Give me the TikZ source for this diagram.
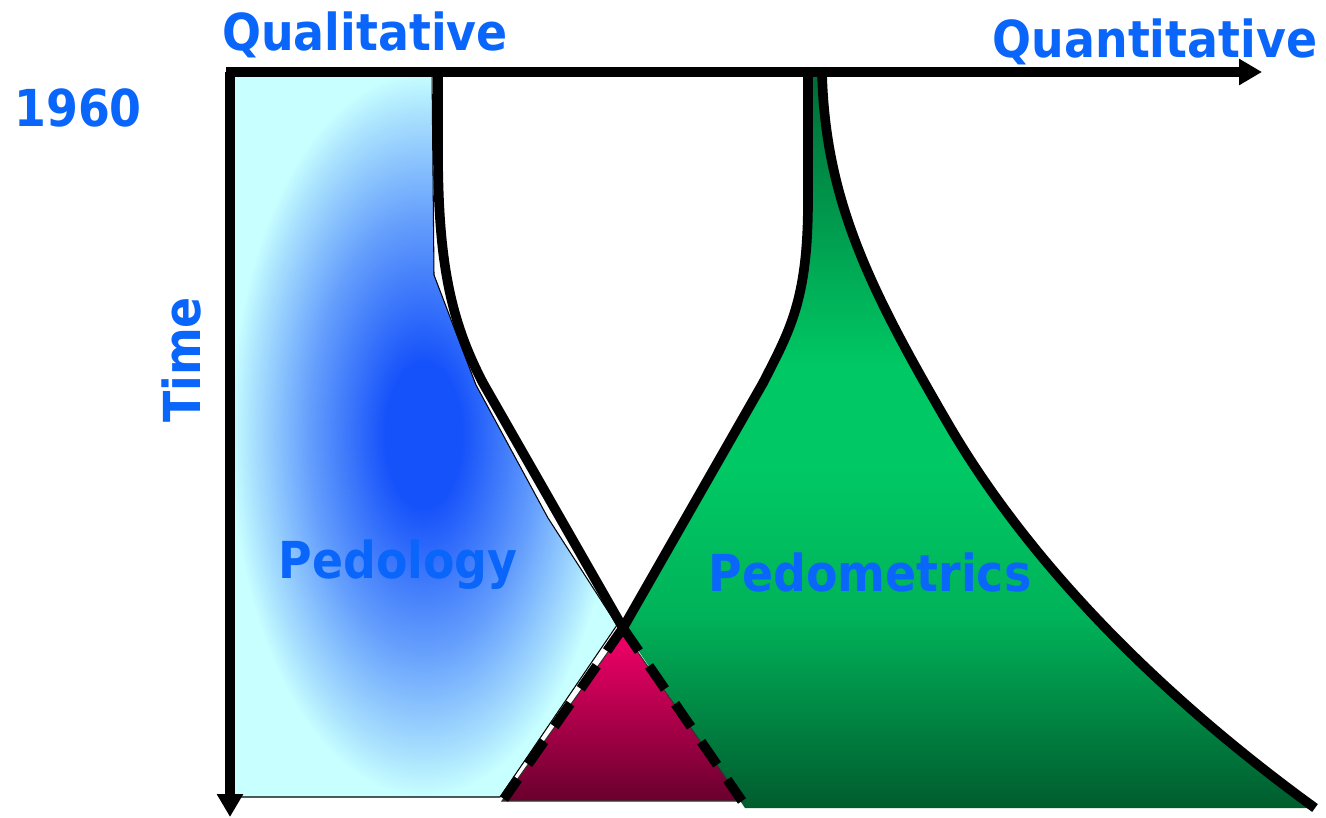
\documentclass[tikz,border=0pt]{standalone}
\usepackage{fontspec}
\newfontfamily\labelfont{DejaVu Sans}[FakeStretch=0.9]
\usetikzlibrary{positioning, calc, arrows.meta}

\definecolor{labelblue}{RGB}{10,102,250}
\definecolor{pedocyan}{RGB}{200,255,255}
\definecolor{pedoblue}{RGB}{22,82,250}
\definecolor{metrictop}{RGB}{0,108,54}
\definecolor{metricbright}{RGB}{0,200,100}
\definecolor{metricbottom}{RGB}{0,92,46}
\definecolor{overlaptop}{RGB}{245,0,105}
\definecolor{overlapbottom}{RGB}{105,0,45}

\pgfdeclareradialshading{pedologyglow}{\pgfpointorigin}{%
  color(0bp)=(pedoblue); color(5bp)=(pedoblue);
  color(15bp)=(pedoblue!55!pedocyan); color(22bp)=(pedoblue!18!pedocyan);
  color(25bp)=(pedocyan); color(50bp)=(pedocyan)}
\pgfdeclareverticalshading{pedometricsfill}{100bp}{%
  color(0bp)=(metricbottom); color(25bp)=(metricbottom);
  color(38bp)=(metricbright!80!metricbottom);
  color(48bp)=(metricbright); color(55bp)=(metricbright);
  color(75bp)=(metrictop); color(100bp)=(metrictop)}

\begin{document}
\begin{tikzpicture}[
  x=0.02cm, y=-0.02cm,
  areatext/.style={font=\labelfont\bfseries\fontsize{29}{34}\selectfont, text=labelblue, inner sep=0pt},
  boundary/.style={line width=5.5pt},
  overlap edge/.style={boundary, dash pattern=on 0.56cm off 0.36cm},
  timeaxis/.style={line width=5.5pt, -{Triangle[length=0.46cm, width=0.5cm]}},
]
\useasboundingbox[fill=white] (0,0) rectangle (1326,818);

% --- key points ---
\coordinate (Origin) at (230,72);
\coordinate (Cross) at (623,628);
\coordinate (PedTop) at (438,72);
\coordinate (MetLeftTop) at (808,72);
\coordinate (MetRightTop) at (822,72);
\coordinate (MetRightEnd) at (1315,808);
\coordinate (OverlapLeft) at (504,799);
\coordinate (OverlapRight) at (742,801);

% --- Pedology ---
\path[shading=pedologyglow, draw=black, line width=0.6pt]
  (Origin) -- (432,72) -- (434,275) -- (476,385) -- (548,518) -- (617,625)
  -- (500,797) -- (230,797) -- cycle;

% --- Pedometrics ---
\path[shading=pedometricsfill]
  (MetLeftTop) -- (808,200) .. controls (808,300) and (790,330) .. (763,383)
  -- (Cross) -- (745,808) -- (MetRightEnd)
  .. controls (1180,710) and (1040,580) .. (950,427)
  .. controls (870,290) and (825,200) .. (MetRightTop) -- cycle;

% --- overlap ---
\path[top color=overlaptop, bottom color=overlapbottom, draw=black!80, line width=0.6pt]
  ($(Cross)+(0,3)$) -- (502,801) -- (OverlapRight) -- cycle;

% boundaries
\draw[boundary] (PedTop) -- (438,150) .. controls (438,260) and (450,320) .. (483,383) -- (Cross);
\draw[boundary] (MetLeftTop) -- (808,200) .. controls (808,300) and (790,330) .. (763,383) -- (Cross);
\draw[boundary] (MetRightTop) .. controls (825,200) and (870,290) .. (950,427)
  .. controls (1040,580) and (1180,710) .. (MetRightEnd);
\draw[overlap edge] (Cross) -- (OverlapLeft);
\draw[overlap edge] (Cross) -- (OverlapRight);

% axes
\draw[timeaxis] ($(Origin)+(-4,0)$) -- (1262,72);
\draw[timeaxis] (Origin) -- (230,817);

% texts
\node[areatext] (Qual) at (365,35) {Qualitative};
\node[areatext] (Quant) at (1155,42) {Quantitative};
\node[areatext] (Year) at (78,108) {1960};
\node[areatext, rotate=90] (Time) at (182,360) {Time};
\node[areatext] (Pedology) at (398,565) {Pedology};
\node[areatext] (Pedometrics) at (870,572) {Pedometrics};

\end{tikzpicture}
\end{document}
